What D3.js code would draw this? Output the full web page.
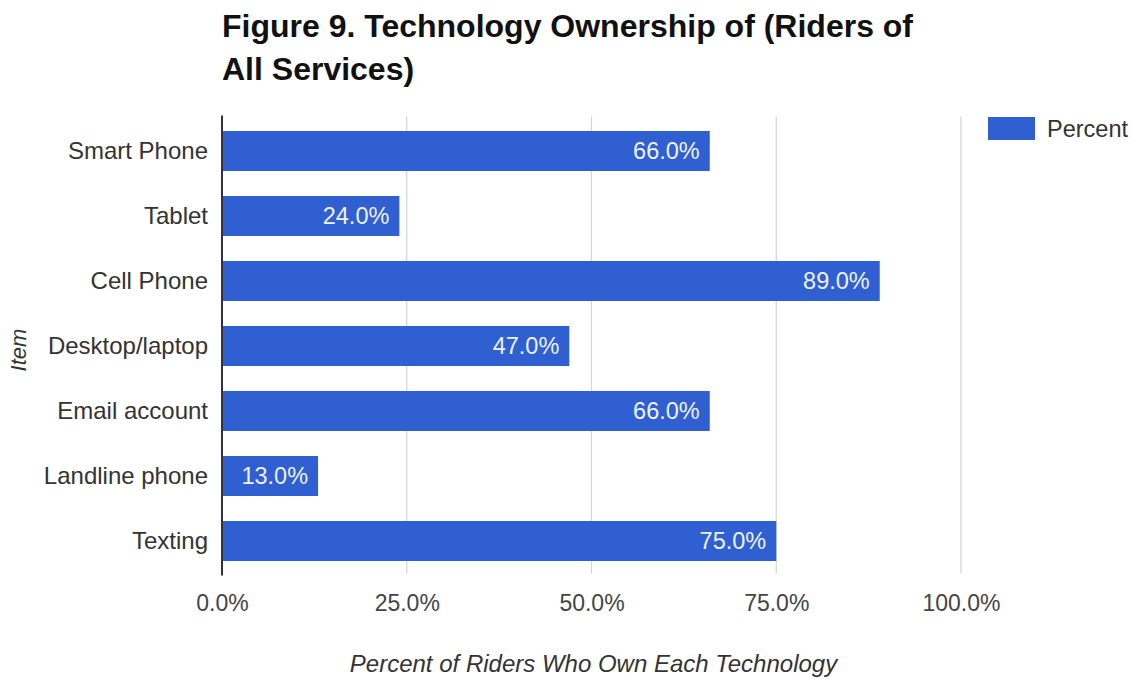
<!DOCTYPE html>
<html><head><meta charset="utf-8">
<script src="https://cdn.jsdelivr.net/npm/d3@7"></script>
<style>body{margin:0;background:#fff;}svg{display:block;}</style>
</head><body>
<svg id="c" width="1134" height="679"></svg>
<script>
const categories = ["Smart Phone","Tablet","Cell Phone","Desktop/laptop","Email account","Landline phone","Texting"];
const percentValues = [66,24,89,47,66,13,75];
const xTicks = [0,25,50,75,100];
const seriesName = "Percent";
const titleLines = ["Figure 9. Technology Ownership of (Riders of","All Services)"];
const xTitle = "Percent of Riders Who Own Each Technology";
const yTitle = "Item";

const svg = d3.select("#c");
const font = "Arial, 'Liberation Sans', sans-serif";
const barColor = "#2f5fd0";
const plot = {left:222, right:961, top:118.5, bottom:573.5};

const x = d3.scaleLinear().domain([0,100]).range([plot.left, plot.right]);
const y = d3.scaleBand().domain(categories).range([plot.top, plot.bottom]).paddingInner(0.385).paddingOuter(0.1925);

// gridlines
svg.append("g").selectAll("line").data(xTicks.slice(1)).join("line")
  .attr("x1", d=>x(d)).attr("x2", d=>x(d))
  .attr("y1", plot.top-2).attr("y2", plot.bottom)
  .attr("stroke","#d4d4d4").attr("stroke-width",1.2);

// bars
const data = categories.map((c,i)=>({c, v:percentValues[i]}));
svg.append("g").selectAll("rect").data(data).join("rect")
  .attr("x", x(0)).attr("y", d=>y(d.c))
  .attr("width", d=>x(d.v)-x(0)).attr("height", y.bandwidth())
  .attr("fill", barColor);

// value labels
svg.append("g").selectAll("text").data(data).join("text")
  .attr("x", d=>x(d.v)-10).attr("y", d=>y(d.c)+y.bandwidth()/2)
  .attr("dy","0.36em").attr("text-anchor","end")
  .attr("fill","#eef2ff").attr("font-family",font).attr("font-size",23.5)
  .text(d=>d.v.toFixed(1)+"%");

// x axis
const xAxis = d3.axisBottom(x).tickValues(xTicks).tickFormat(d=>d.toFixed(1)+"%").tickSize(0).tickPadding(0);
const gx = svg.append("g").attr("transform",`translate(0,${plot.bottom})`).call(xAxis);
gx.select(".domain").remove();
gx.selectAll("text").attr("font-family",font).attr("font-size",23).attr("fill","#444")
  .attr("dy",null).attr("y",37);

// y axis
const yAxis = d3.axisLeft(y).tickSize(0).tickPadding(14);
const gy = svg.append("g").attr("transform",`translate(${plot.left},0)`).call(yAxis);
gy.select(".domain").remove();
gy.selectAll("text").attr("font-family",font).attr("font-size",24).attr("fill","#333");

// baseline axis line
svg.append("line").attr("x1",x(0)).attr("x2",x(0)).attr("y1",plot.top-3).attr("y2",plot.bottom+2)
  .attr("stroke","#333").attr("stroke-width",2);

// titles
svg.append("g").selectAll("text").data(titleLines).join("text")
  .attr("x",222).attr("y",(d,i)=>37+i*43)
  .attr("font-family",font).attr("font-weight","bold").attr("font-size",32).attr("fill","#111")
  .text(d=>d);

svg.append("text").attr("x",(plot.left+plot.right)/2+2).attr("y",672)
  .attr("text-anchor","middle").attr("font-family",font).attr("font-style","italic")
  .attr("font-size",24).attr("fill","#333").text(xTitle);

svg.append("text").attr("transform","translate(26,350) rotate(-90)")
  .attr("text-anchor","middle").attr("font-family",font).attr("font-style","italic")
  .attr("font-size",22).attr("fill","#333").text(yTitle);

// legend
const lg = svg.append("g").attr("transform","translate(988,117)");
lg.append("rect").attr("width",47).attr("height",23).attr("fill",barColor);
lg.append("text").attr("x",59).attr("y",11.5).attr("dy","0.36em")
  .attr("font-family",font).attr("font-size",23.5).attr("fill","#333").text(seriesName);
</script>
</body></html>
